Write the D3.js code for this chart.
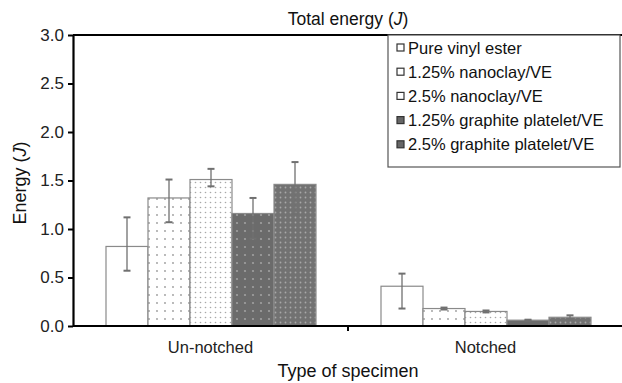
<!DOCTYPE html>
<html lang="en">
<head>
  <meta charset="UTF-8" />
  <title>Total energy</title>
  <style>
    body { margin: 0; background: #fff; font-family: "Liberation Sans", Arial, sans-serif; }
    svg { display: block; }
  </style>
</head>
<body>
  <svg id="chart"></svg>
  <script src="https://d3js.org/d3.v7.min.js"></script>
  <script>
    // data
    const groups = ["Un-notched", "Notched"];
    const series = ["Pure vinyl ester", "1.25% nanoclay/VE", "2.5% nanoclay/VE",
                    "1.25% graphite platelet/VE", "2.5% graphite platelet/VE"];
    const values = [
      [0.82, 1.32, 1.51, 1.16, 1.46],
      [0.41, 0.18, 0.15, 0.06, 0.09]
    ];
    const errLow = [
      [0.57, 1.07, 1.44, 0.90, 1.15],
      [0.18, 0.17, 0.14, 0.055, 0.07]
    ];
    const errHigh = [
      [1.12, 1.51, 1.62, 1.32, 1.69],
      [0.54, 0.19, 0.16, 0.065, 0.11]
    ];
    const yTicks = [0, 0.5, 1.0, 1.5, 2.0, 2.5, 3.0];

    const FONT = "Liberation Sans, Arial, sans-serif";
    const W = 622, H = 383;
    const margin = {top: 35, right: 1, bottom: 57, left: 73};
    const width = W - margin.left - margin.right;
    const height = H - margin.top - margin.bottom;

    const svgRoot = d3.select("#chart").attr("width", W).attr("height", H)
      .attr("font-family", FONT);

    // fill patterns
    const defs = svgRoot.append("defs");
    const pats = [
      null,
      {id: "p1", bg: "#fff", dot: "#9a9a9a", step: 8, r: 0.9},
      {id: "p2", bg: "#fff", dot: "#a8a8a8", step: 5, r: 0.8},
      {id: "p3", bg: "#6b6b6b", dot: "#a0a0a0", step: 8, r: 1.1},
      {id: "p4", bg: "#727272", dot: "#a8a8a8", step: 5, r: 0.9}
    ];
    pats.forEach(p => {
      if (!p) return;
      const pt = defs.append("pattern").attr("id", p.id)
        .attr("patternUnits", "userSpaceOnUse")
        .attr("width", p.step).attr("height", p.step);
      pt.append("rect").attr("width", p.step).attr("height", p.step).attr("fill", p.bg);
      pt.append("circle").attr("cx", p.step / 2).attr("cy", p.step / 2).attr("r", p.r).attr("fill", p.dot);
    });
    const fillFor = i => pats[i] ? `url(#${pats[i].id})` : "#fff";

    const svg = svgRoot.append("g").attr("transform", `translate(${margin.left},${margin.top})`);

    const x0 = d3.scaleBand().domain(groups).range([0, 550]).paddingInner(0).paddingOuter(0);
    const x1 = d3.scaleBand().domain(series).range([33, x0.bandwidth() - 32]);
    const y = d3.scaleLinear().domain([0, 3]).range([height, 0]);

    // bars
    groups.forEach((g, gi) => {
      const grp = svg.append("g").attr("transform", `translate(${x0(g)},0)`);
      series.forEach((s, si) => {
        grp.append("rect")
          .attr("x", x1(s))
          .attr("y", y(values[gi][si]))
          .attr("width", x1.bandwidth())
          .attr("height", y(0) - y(values[gi][si]))
          .attr("fill", fillFor(si))
          .attr("stroke", "#8a8a8a")
          .attr("stroke-width", 1.2);
      });
      series.forEach((s, si) => {
        const cx = x1(s) + x1.bandwidth() / 2;
        const e = grp.append("g").attr("stroke", "#707070").attr("stroke-width", 1.3);
        e.append("line").attr("x1", cx).attr("x2", cx)
          .attr("y1", y(errLow[gi][si])).attr("y2", y(errHigh[gi][si]));
        [errLow[gi][si], errHigh[gi][si]].forEach(v => {
          e.append("line").attr("x1", cx - 3.5).attr("x2", cx + 3.5)
            .attr("y1", y(v)).attr("y2", y(v)).attr("stroke-width", 2);
        });
      });
    });

    // axes
    const yAxis = svg.append("g")
      .call(d3.axisLeft(y).tickValues(yTicks).tickFormat(d3.format(".1f")).tickSize(5).tickSizeOuter(0));
    yAxis.select(".domain").attr("stroke-width", 2.2);
    yAxis.selectAll(".tick line").attr("stroke-width", 2);
    yAxis.selectAll("text").attr("font-size", 17).attr("font-family", FONT)
      .attr("fill", "#222").attr("dx", -1);

    const xAxis = svg.append("g").attr("transform", `translate(0,${height})`)
      .call(d3.axisBottom(x0).tickSize(0).tickPadding(15));
    xAxis.select(".domain").remove();
    xAxis.selectAll("text").attr("font-size", 16.5).attr("font-family", FONT).attr("fill", "#222");
    svg.append("line").attr("x1", 0).attr("x2", 549).attr("y1", height).attr("y2", height)
      .attr("stroke", "#000").attr("stroke-width", 2.2);
    svg.append("line").attr("x1", x0.bandwidth()).attr("x2", x0.bandwidth())
      .attr("y1", height).attr("y2", height + 5).attr("stroke", "#000").attr("stroke-width", 2);

    // top frame line
    svg.append("line").attr("x1", 0).attr("x2", 549).attr("y1", 0).attr("y2", 0)
      .attr("stroke", "#000").attr("stroke-width", 2.2);

    // titles
    svgRoot.append("text").attr("x", 348).attr("y", 25).attr("text-anchor", "middle")
      .attr("font-size", 17.5).attr("fill", "#111")
      .html('Total energy (<tspan font-style="italic">J</tspan>)');
    svgRoot.append("text").attr("x", 348).attr("y", 377).attr("text-anchor", "middle")
      .attr("font-size", 18).attr("fill", "#111").text("Type of specimen");
    svgRoot.append("text").attr("transform", "translate(26,183) rotate(-90)").attr("text-anchor", "middle")
      .attr("font-size", 18).attr("fill", "#111")
      .html('Energy (<tspan font-style="italic">J</tspan>)');

    // legend
    const lg = svgRoot.append("g").attr("transform", "translate(388,35)");
    lg.append("rect").attr("width", 232).attr("height", 132)
      .attr("fill", "#fff").attr("stroke", "#555").attr("stroke-width", 1.2);
    series.forEach((s, i) => {
      const row = lg.append("g").attr("transform", `translate(9,${13 + i * 24.2})`);
      row.append("rect").attr("x", 0).attr("y", -4).attr("width", 7).attr("height", 7)
        .attr("fill", i >= 3 ? "#666" : "#fff").attr("stroke", "#333").attr("stroke-width", 1.2);
      row.append("text").attr("x", 11).attr("y", 5.5).attr("font-size", 16.5).attr("fill", "#111").text(s);
    });
  </script>
</body>
</html>
